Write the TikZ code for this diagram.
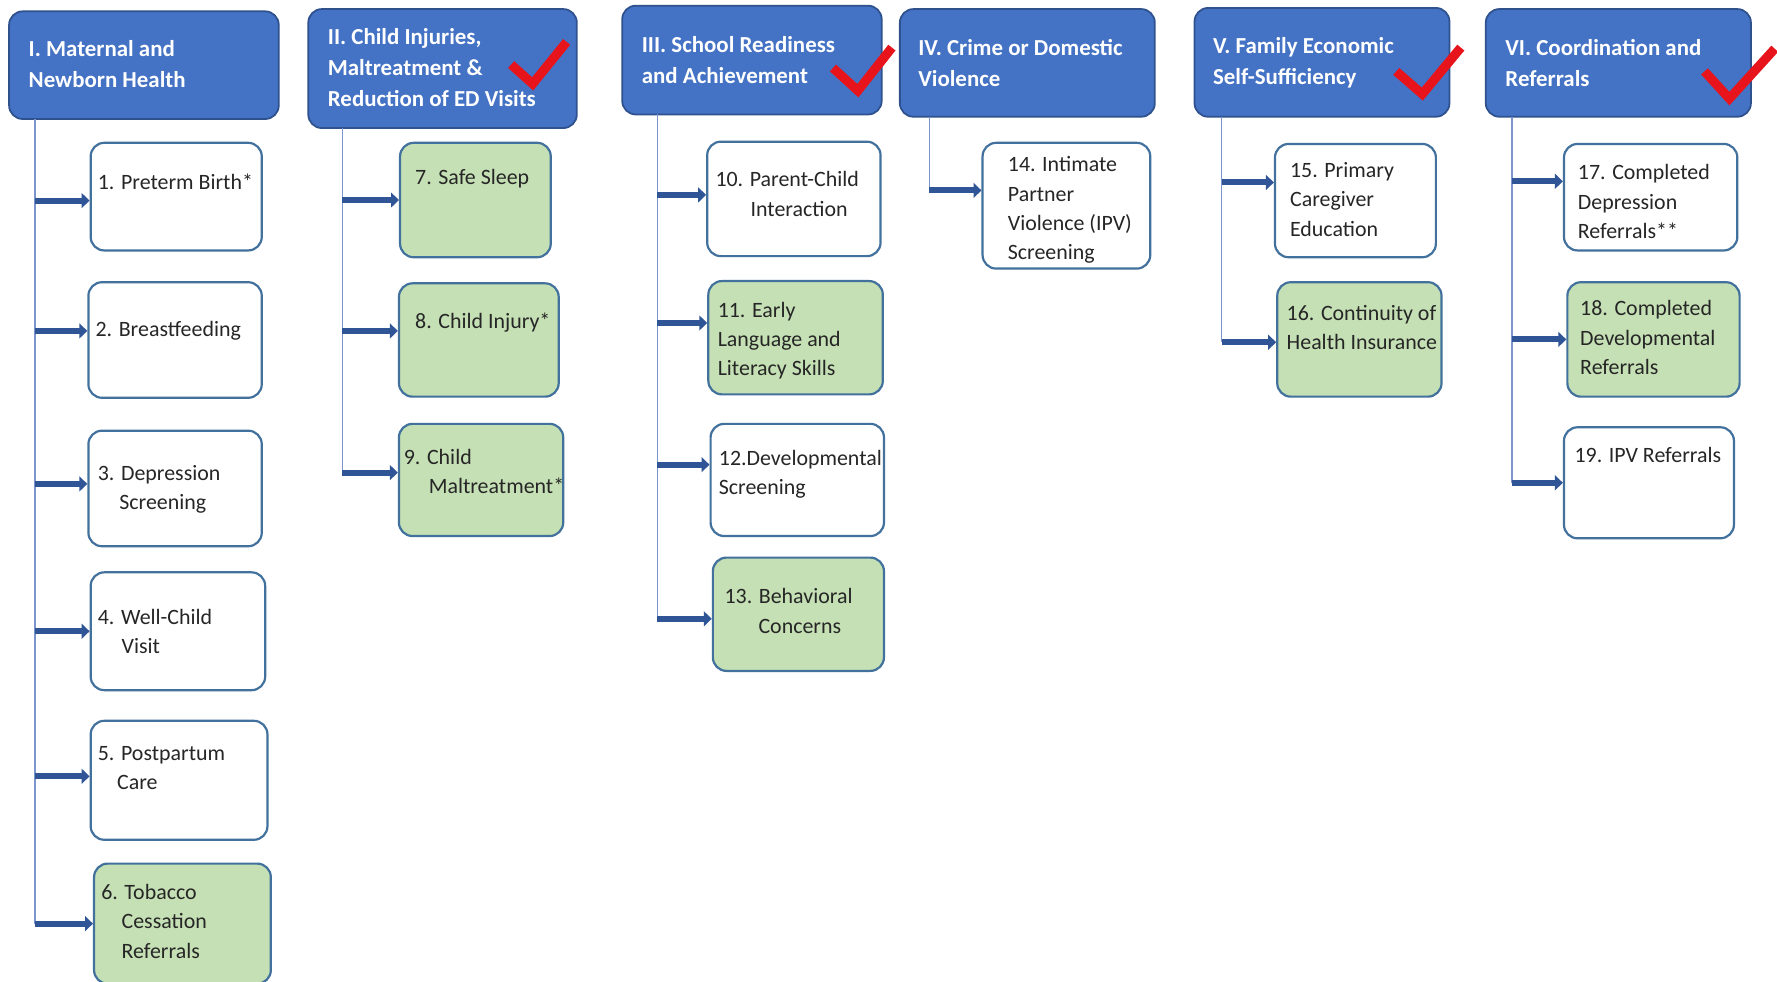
\documentclass[tikz,border=0pt]{standalone}
\usepackage{fontspec}
\setmainfont{Carlito}
\usepackage{xcolor}
\usepackage{tikz}
\usetikzlibrary{arrows.meta}

\definecolor{hdrblue}{HTML}{4472C4}
\definecolor{hdrline}{HTML}{2F528F}
\definecolor{boxline}{HTML}{41719C}
\definecolor{boxgreen}{HTML}{C5E0B4}
\definecolor{arrblue}{HTML}{2F5597}
\definecolor{stemblue}{HTML}{7C95CC}
\definecolor{tickred}{HTML}{E8141B}
\definecolor{txtgray}{HTML}{262626}

\begin{document}
\begin{tikzpicture}[x=0.02cm, y=-0.02cm,
        hdr/.style={draw=hdrline, line width=0.9pt, fill=hdrblue, rounded corners=0.24cm},
        hdrtxt/.style={anchor=north west, inner sep=0pt, align=left, text=white,
            font=\fontsize{11.5}{15.6}\selectfont\bfseries},
        item/.style={draw=boxline, line width=1.1pt, fill=white, rounded corners=0.24cm},
        greenitem/.style={item, fill=boxgreen},
        itemtxt/.style={anchor=north west, inner sep=0pt, align=left, text=txtgray,
            font=\fontsize{11}{14.7}\selectfont},
        stem/.style={draw=stemblue, line width=0.7pt},
        arr/.style={draw=arrblue, line width=3pt, -{Triangle[length=0.14cm, width=0.26cm]}},
        tick/.style={draw=tickred, line width=4.6pt, line join=miter}]
        \clip (0,0) rectangle (1568,866);
        \fill[white] (0,0) rectangle (1568,866);

        % headers
        \node[hdr, minimum width=4.76cm, minimum height=1.90cm] (h1) at (127,57.5) {};
        \node[hdr, minimum width=4.74cm, minimum height=2.10cm] (h2) at (390.5,60.5) {};
        \node[hdr, minimum width=4.58cm, minimum height=1.92cm] (h3) at (663.5,53) {};
        \node[hdr, minimum width=4.50cm, minimum height=1.90cm] (h4) at (906.5,55.5) {};
        \node[hdr, minimum width=4.50cm, minimum height=1.92cm] (h5) at (1166.5,55) {};
        \node[hdr, minimum width=4.68cm, minimum height=1.90cm] (h6) at (1428,55.5) {};
        \node[hdrtxt] (g1) at (25,35) {I. Maternal and\\Newborn Health};
        \node[hdrtxt] (g2) at (289,25) {II. Child Injuries,\\Maltreatment \&\\Reduction of ED Visits};
        \node[hdrtxt] (g3) at (566,32) {III. School Readiness\\and Achievement};
        \node[hdrtxt] (g4) at (810,34) {IV. Crime or Domestic\\Violence};
        \node[hdrtxt] (g5) at (1070,33) {V. Family Economic\\Self-Sufficiency};
        \node[hdrtxt] (g6) at (1328,34) {VI. Coordination and\\Referrals};

        % check marks
        \draw[tick] (451,57) -- (470,74) -- (500,37);
        \draw[tick] (735,60) -- (757,80) -- (787,42);
        \draw[tick] (1232,63) -- (1255,83) -- (1289,42);
        \draw[tick] (1504,63) -- (1526,87) -- (1566,43);

        % indicator boxes
        \node[item, minimum width=3.02cm, minimum height=1.90cm] (p1) at (155.5,173.5) {};
        \node[item, minimum width=3.06cm, minimum height=2.04cm] (p2) at (154.5,300) {};
        \node[item, minimum width=3.06cm, minimum height=2.04cm] (p3) at (154.5,431) {};
        \node[item, minimum width=3.08cm, minimum height=2.08cm] (p4) at (157,557) {};
        \node[item, minimum width=3.12cm, minimum height=2.10cm] (p5) at (158,688.5) {};
        \node[greenitem, minimum width=3.12cm, minimum height=2.12cm] (p6) at (161,815) {};
        \node[greenitem, minimum width=2.66cm, minimum height=2.02cm] (p7) at (419.5,176.5) {};
        \node[greenitem, minimum width=2.82cm, minimum height=2.00cm] (p8) at (422.5,300) {};
        \node[greenitem, minimum width=2.90cm, minimum height=1.98cm] (p9) at (424.5,423.5) {};
        \node[item, minimum width=3.06cm, minimum height=2.02cm] (p10) at (700.5,175.5) {};
        \node[greenitem, minimum width=3.08cm, minimum height=2.00cm] (p11) at (702,298) {};
        \node[item, minimum width=3.06cm, minimum height=1.98cm] (p12) at (703.5,423.5) {};
        \node[greenitem, minimum width=3.02cm, minimum height=2.00cm] (p13) at (704.5,542) {};
        \node[item, minimum width=2.96cm, minimum height=2.22cm] (p14) at (941,181.5) {};
        \node[item, minimum width=2.84cm, minimum height=2.00cm] (p15) at (1196,177) {};
        \node[greenitem, minimum width=2.90cm, minimum height=2.02cm] (p16) at (1199.5,299.5) {};
        \node[item, minimum width=3.06cm, minimum height=1.88cm] (p17) at (1456.5,174) {};
        \node[greenitem, minimum width=3.04cm, minimum height=2.02cm] (p18) at (1459,299.5) {};
        \node[item, minimum width=3.00cm, minimum height=1.96cm] (p19) at (1455,426) {};

        \node[itemtxt] (t1) at (86,153) {1. Preterm Birth*};
        \node[itemtxt] (t2) at (84,283) {2. Breastfeeding};
        \node[itemtxt] (t3) at (86,410) {3. Depression\\\hspace*{0.38cm}Screening};
        \node[itemtxt] (t4) at (86,537) {4. Well-Child\\\hspace*{0.42cm}Visit};
        \node[itemtxt] (t5) at (86,658) {5. Postpartum\\\hspace*{0.34cm}Care};
        \node[itemtxt] (t6) at (89,780) {6. Tobacco\\\hspace*{0.36cm}Cessation\\\hspace*{0.36cm}Referrals};
        \node[itemtxt] (t7) at (366,149) {7. Safe Sleep};
        \node[itemtxt] (t8) at (366,276) {8. Child Injury*};
        \node[itemtxt] (t9) at (356,396) {9. Child\\\hspace*{0.44cm}Maltreatment*};
        \node[itemtxt] (t10) at (631,151) {10. Parent-Child\\\hspace*{0.62cm}Interaction};
        \node[itemtxt] (t11) at (633,266) {11. Early\\Language and\\Literacy Skills};
        \node[itemtxt] (t12) at (634,397) {12.Developmental\\Screening};
        \node[itemtxt] (t13) at (639,519) {13. Behavioral\\\hspace*{0.6cm}Concerns};
        \node[itemtxt] (t14) at (889,138) {14. Intimate\\Partner\\Violence (IPV)\\Screening};
        \node[itemtxt] (t15) at (1138,143) {15. Primary\\Caregiver\\Education};
        \node[itemtxt] (t16) at (1135,269) {16. Continuity of\\Health Insurance};
        \node[itemtxt] (t17) at (1392,145) {17. Completed\\Depression\\Referrals**};
        \node[itemtxt] (t18) at (1394,265) {18. Completed\\Developmental\\Referrals};
        \node[itemtxt] (t19) at (1389,394) {19. IPV Referrals};

        % stems under the headers
        \coordinate (s1) at (31,105);
        \coordinate (s2) at (302,113);
        \coordinate (s3) at (580,101);
        \coordinate (s4) at (820,103);
        \coordinate (s5) at (1078,103);
        \coordinate (s6) at (1334,103);
        \draw[stem] (s1) -- (p6.west -| s1);
        \draw[stem] (s2) -- ([yshift=0.13cm]p9.west -| s2);
        \draw[stem] (s3) -- ([yshift=-0.08cm]p13.west -| s3);
        \draw[stem] (s4) -- ([yshift=0.27cm]p14.west -| s4);
        \draw[stem] (s5) -- ([yshift=-0.05cm]p16.west -| s5);
        \draw[stem] (s6) -- (p19.west -| s6);

        % arrows into the boxes
        \draw[arr] ([yshift=-0.07cm]p1.west -| s1) -- ([yshift=-0.07cm]p1.west);
        \draw[arr] ([yshift=0.16cm]p2.west -| s1) -- ([yshift=0.16cm]p2.west);
        \draw[arr] ([yshift=0.08cm]p3.west -| s1) -- ([yshift=0.08cm]p3.west);
        \draw[arr] (p4.west -| s1) -- (p4.west);
        \draw[arr] ([yshift=0.07cm]p5.west -| s1) -- ([yshift=0.07cm]p5.west);
        \draw[arr] (p6.west -| s1) -- (p6.west);
        \draw[arr] (p7.west -| s2) -- (p7.west);
        \draw[arr] ([yshift=0.16cm]p8.west -| s2) -- ([yshift=0.16cm]p8.west);
        \draw[arr] ([yshift=0.13cm]p9.west -| s2) -- ([yshift=0.13cm]p9.west);
        \draw[arr] ([yshift=0.07cm]p10.west -| s3) -- ([yshift=0.07cm]p10.west);
        \draw[arr] ([yshift=0.26cm]p11.west -| s3) -- ([yshift=0.26cm]p11.west);
        \draw[arr] ([yshift=0.27cm]p12.west -| s3) -- ([yshift=0.27cm]p12.west);
        \draw[arr] ([yshift=-0.08cm]p13.west -| s3) -- ([yshift=-0.08cm]p13.west);
        \draw[arr] ([yshift=0.27cm]p14.west -| s4) -- ([yshift=0.27cm]p14.west);
        \draw[arr] ([yshift=0.32cm]p15.west -| s5) -- ([yshift=0.32cm]p15.west);
        \draw[arr] ([yshift=-0.05cm]p16.west -| s5) -- ([yshift=-0.05cm]p16.west);
        \draw[arr] ([yshift=0.28cm]p17.west -| s6) -- ([yshift=0.28cm]p17.west);
        \draw[arr] (p18.west -| s6) -- (p18.west);
        \draw[arr] (p19.west -| s6) -- (p19.west);
    \end{tikzpicture}
\end{document}
